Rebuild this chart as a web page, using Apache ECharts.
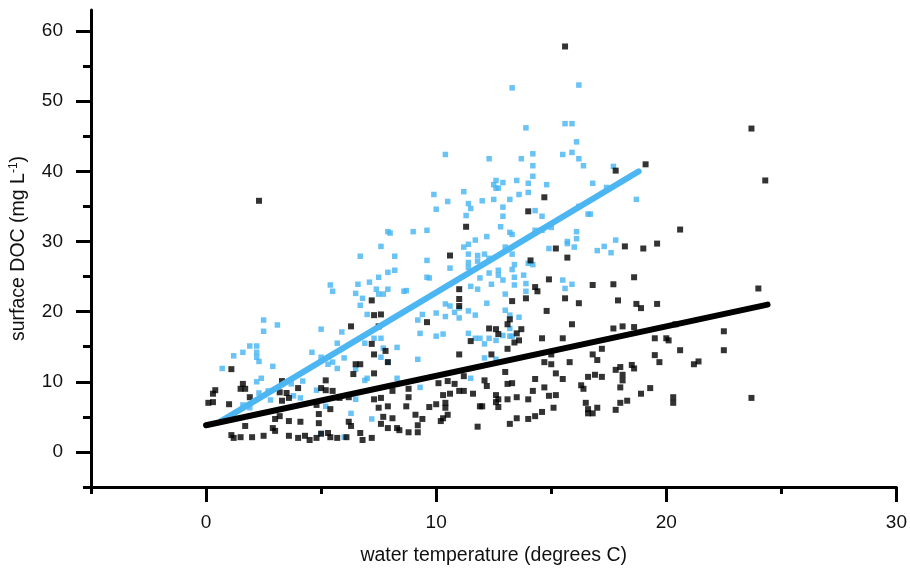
<!DOCTYPE html>
<html>
<head>
<meta charset="utf-8">
<script src="https://cdn.jsdelivr.net/npm/echarts@6/dist/echarts.min.js"></script>
<style>
  html, body { margin: 0; padding: 0; background: #fff; }
  #chart { width: 910px; height: 572px; }
</style>
</head>
<body>
<div id="chart"></div>
<script>
// surface DOC vs water temperature
var bluePoints = [
  [7.9,31.4],[7.6,29.3],[6.7,27.9],[7.5,24.9],[7.9,25.6],[5.4,23.8],[6.6,23.9],[7.1,24.2],[7.4,23.2],[7.9,23.2],
  [2.5,18.8],[3.1,18.1],[2.5,17.2],[5.0,17.5],[5.9,17.1],[1.2,13.7],[1.6,14.2],[1.9,15.1],[2.2,15.1],[2.2,14.2],
  [2.2,13.5],[2.3,12.9],[0.7,11.9],[2.9,12.2],[4.6,14.2],[5.0,13.5],[5.7,15.5],[6.0,13.4],[5.5,12.8],[5.3,12.5],
  [5.7,11.9],[6.5,11.8],[6.9,15.5],[7.3,16.2],[7.6,16.2],[7.7,14.8],[7.6,13.5],[7.9,12.8],[2.4,10.5],[2.2,10.0],
  [3.7,9.7],[4.2,10.1],[2.7,8.7],[2.3,8.4],[2.8,7.4],[3.8,8.0],[4.1,7.7],[4.8,8.8],[5.2,6.5],[6.5,7.5],
  [6.9,10.2],[7.0,10.5],[1.6,6.7],[1.9,6.3],[6.3,5.5],[7.2,4.7],[5.0,2.6],[6.0,2.1],[5.5,22.9],[6.5,22.6],
  [6.8,21.9],[6.7,20.9],[7.5,22.5],[7.7,22.5],[7.0,19.6],
  [13.3,51.9],[16.2,52.3],[15.6,46.8],[15.9,46.8],[13.9,46.2],[16.1,44.2],[15.5,42.4],[15.9,42.7],[16.2,41.8],[16.4,40.8],
  [10.4,42.4],[12.3,41.8],[13.7,41.8],[14.2,42.5],[14.2,40.8],[14.2,39.3],[13.5,38.7],[14.0,38.3],[14.8,38.1],[12.6,38.7],
  [12.5,38.1],[12.9,38.4],[12.6,37.6],[12.7,37.6],[9.9,36.7],[11.2,37.1],[13.6,36.7],[14.0,37.0],[12.5,36.0],[13.2,36.0],
  [12.0,35.8],[10.5,35.7],[11.4,35.4],[11.5,34.7],[10.0,34.6],[12.9,34.9],[14.3,34.4],[14.6,33.6],[11.3,33.7],[12.9,33.6],
  [16.6,33.9],[12.8,32.1],[13.2,31.3],[13.3,31.0],[9.0,31.4],[9.6,31.6],[8.0,31.2],[11.7,30.2],[12.2,30.7],[14.3,31.6],
  [14.6,31.6],[15.0,32.0],[16.1,31.4],[16.1,30.4],[16.2,35.0],[15.7,30.0],
  [8.2,27.9],[8.2,25.9],[9.6,27.3],[9.6,24.9],[9.7,24.8],[10.6,26.2],[11.2,29.2],[11.4,29.6],[11.4,28.2],[11.4,27.0],
  [11.4,26.3],[11.8,28.0],[12.1,28.2],[12.3,27.6],[11.8,27.2],[13.0,29.2],[13.3,28.2],[14.9,29.0],[15.7,29.7],[16.0,29.2],
  [8.6,22.9],[8.7,23.0],[10.4,21.1],[10.6,20.8],[11.0,20.5],[10.8,19.9],[11.4,20.1],[11.7,19.5],[11.0,19.1],[10.4,19.3],
  [10.0,19.8],[9.4,19.6],[9.2,18.8],[9.3,16.9],[10.0,16.5],[10.3,16.8],[11.4,16.9],[11.7,16.2],[11.9,16.2],[12.3,16.2],
  [12.1,15.4],[12.6,15.9],[12.9,16.6],[13.2,16.5],[12.1,13.4],[9.2,13.2],[11.5,23.6],[11.8,23.2],[11.9,24.8],[12.4,23.9],
  [12.2,21.2],[12.3,25.5],[12.7,25.9],[12.7,25.2],[12.9,24.5],[13.0,22.5],[13.3,26.0],[13.4,26.7],[13.4,24.9],[13.4,23.8],
  [13.8,25.2],[13.9,24.0],[13.9,22.9],[14.0,26.9],[14.2,26.7],[15.5,24.5],[15.9,23.9],[15.6,23.3],[13.0,20.2],[13.2,19.5],
  [13.6,19.2],[13.2,17.6],[13.3,16.5],[8.3,10.5],[9.3,9.2],[11.5,10.5],[12.6,13.2],[8.3,14.9],
  [17.7,40.7],[16.8,38.3],[17.4,37.7],[18.7,36.0],[16.7,33.9],[17.0,28.7],[17.3,29.3],[17.6,28.4],[17.8,30.2]
];
var blackPoints = [
  [2.3,35.8],
  [7.2,21.6],[6.3,17.9],[7.3,19.5],[7.6,19.6],[7.5,17.9],[7.2,15.4],[7.8,14.4],[7.3,13.9],[7.9,12.8],[1.1,11.8],
  [6.5,12.5],[6.7,12.5],[6.4,11.1],[7.3,11.2],[3.3,10.1],[1.6,9.7],[1.5,9.0],[1.7,9.0],[0.4,8.8],[0.3,8.3],
  [0.1,7.0],[0.3,7.1],[1.0,6.8],[1.9,7.8],[3.2,8.5],[3.5,8.4],[3.6,7.7],[4.0,9.1],[3.3,7.3],[5.2,10.2],
  [5.0,9.1],[5.2,8.8],[5.5,8.7],[5.8,7.7],[6.2,7.8],[7.3,7.5],[7.6,7.7],[7.5,6.3],[7.9,6.5],[5.4,6.1],
  [4.8,6.7],[4.9,5.4],[3.2,5.1],[3.0,4.7],[1.7,3.7],[3.6,4.4],[4.1,4.3],[4.9,4.1],[6.2,4.3],[6.3,3.7],
  [7.9,3.4],[7.7,5.0],[1.1,2.4],[1.2,2.0],[1.5,2.1],[2.0,2.1],[2.5,2.3],[2.9,3.4],[3.0,3.0],[3.6,2.3],
  [4.0,2.0],[4.3,2.3],[4.5,1.7],[4.8,2.0],[5.0,2.6],[5.3,2.7],[5.4,2.1],[5.7,2.0],[6.1,2.1],[6.7,2.7],
  [6.8,1.7],[7.2,2.0],[7.6,4.0],
  [15.6,57.8],[14.7,36.3],[14.0,34.3],[11.3,32.1],
  [10.6,28.0],[15.2,29.0],[15.7,27.7],[14.1,27.3],[14.9,24.6],[14.3,23.5],[14.4,22.9],[16.2,21.2],[15.6,21.9],[14.8,20.1],
  [15.9,18.2],[11.0,23.2],[11.0,21.8],[11.0,20.8],[9.6,18.5],[12.3,17.6],[12.6,17.5],[12.7,16.8],[13.3,21.5],[13.9,21.9],
  [13.2,18.9],[13.1,18.2],[13.7,17.5],[13.5,16.9],[13.6,15.9],[13.4,15.6],[13.1,14.7],[11.5,15.8],[14.6,16.2],[15.5,16.2],
  [12.4,13.9],[11.0,13.9],[15.0,13.9],[14.7,12.8],[15.0,12.5],[15.8,12.8],[13.0,11.4],[15.2,11.2],[15.5,10.4],[16.6,10.7],
  [14.3,10.4],[12.1,10.2],[12.2,9.4],[13.1,9.7],[13.3,9.8],[14.7,9.2],[16.3,9.5],[16.4,9.0],[11.2,10.8],[10.8,9.7],
  [10.5,10.1],[10.1,9.8],[8.8,9.0],[8.1,8.7],[8.8,7.8],[10.3,8.1],[10.6,8.3],[11.0,8.7],[11.2,8.7],[11.6,8.3],
  [12.6,8.1],[12.7,7.5],[13.1,7.5],[13.5,7.8],[14.0,7.5],[14.2,8.7],[14.9,8.0],[15.2,8.1],[16.5,7.0],[16.6,6.1],
  [15.1,6.3],[14.6,5.7],[14.3,5.1],[14.0,4.7],[13.5,4.8],[13.2,4.0],[12.6,7.1],[12.7,6.4],[12.0,6.5],[11.9,6.5],
  [10.4,7.0],[10.4,6.3],[10.0,6.8],[9.7,6.4],[10.5,5.3],[10.3,4.8],[10.2,4.4],[9.4,4.7],[9.1,5.3],[9.2,3.8],
  [9.2,2.8],[8.8,2.8],[8.7,6.5],[8.3,3.4],[8.4,3.1],[8.1,4.8],[11.8,3.6],[16.6,5.5],
  [19.1,41.0],[17.8,40.1],[23.7,46.1],[24.3,38.7],[20.6,31.7],
  [18.2,29.3],[19.0,29.0],[19.6,29.7],[16.8,23.8],[17.7,23.9],[18.6,24.9],[17.9,21.6],[18.7,21.1],[18.9,20.5],[19.6,21.1],
  [24.0,23.3],[17.7,17.6],[18.1,17.9],[18.6,17.8],[20.4,18.2],[19.5,16.2],[20.0,16.2],[20.1,15.9],[22.5,17.2],[22.5,14.5],
  [20.6,14.5],[17.2,14.7],[16.8,13.9],[17.0,13.1],[19.5,13.8],[19.7,12.8],[21.2,12.5],[21.4,12.9],[17.8,11.7],[18.0,12.1],
  [18.5,12.4],[18.6,11.9],[16.9,11.0],[17.2,10.7],[18.1,11.0],[18.1,10.2],[18.0,9.2],[19.3,9.1],[18.9,8.3],[20.3,7.8],
  [20.3,7.0],[23.7,7.7],[18.3,7.3],[18.0,7.0],[17.8,6.0],[17.0,6.3],[16.8,5.5]
];
// fitted lines, end points
var blueFit = [[0.65, 4.4], [18.8, 40.0]];
var blackFit = [[0.0, 3.8], [24.4, 21.0]];

var xMajorTicks = [0, 10, 20, 30];
var xMinorTicks = [-5, 5, 15, 25];
var yMajorTicks = [0, 10, 20, 30, 40, 50, 60];
var yMinorTicks = [-5, 5, 15, 25, 35, 45, 55];

var chart = echarts.init(document.getElementById('chart'));
var font = '"Liberation Sans", Arial, sans-serif';
var textColor = '#111';
var lineBlack = { color: '#000', width: 3 };

chart.setOption({
  animation: false,
  backgroundColor: '#fff',
  grid: { left: 89, top: 10, width: 808, height: 477 },
  xAxis: [{
    type: 'value', min: -5, max: 30,
    name: 'water temperature (degrees C)',
    nameLocation: 'middle', nameGap: 59,
    nameTextStyle: { fontFamily: font, fontSize: 19.5, color: textColor },
    axisLine: { show: true, onZero: false, lineStyle: lineBlack },
    axisTick: { show: true, length: 15, lineStyle: lineBlack, customValues: xMajorTicks },
    axisLabel: { customValues: xMajorTicks, margin: 26, fontFamily: font, fontSize: 19, color: textColor },
    splitLine: { show: false }
  }, {
    type: 'value', min: -5, max: 30, position: 'bottom',
    axisLine: { show: false, onZero: false },
    axisTick: { show: true, length: 7, lineStyle: lineBlack, customValues: xMinorTicks },
    axisLabel: { show: false },
    splitLine: { show: false }
  }],
  yAxis: [{
    type: 'value', min: -5, max: 63,
    name: 'surface DOC (mg L{sup|-1})',
    nameLocation: 'middle', nameGap: 62,
    nameTextStyle: {
      fontFamily: font, fontSize: 19.5, color: textColor,
      rich: { sup: { fontFamily: font, fontSize: 12, color: textColor, verticalAlign: 'top', padding: [0, 0, 9, 0] } }
    },
    axisLine: { show: true, onZero: false, lineStyle: lineBlack },
    axisTick: { show: true, length: 15, lineStyle: lineBlack, customValues: yMajorTicks },
    axisLabel: { customValues: yMajorTicks, margin: 28, fontFamily: font, fontSize: 19, color: textColor },
    splitLine: { show: false }
  }, {
    type: 'value', min: -5, max: 63, position: 'left',
    axisLine: { show: false, onZero: false },
    axisTick: { show: true, length: 8, lineStyle: lineBlack, customValues: yMinorTicks },
    axisLabel: { show: false },
    splitLine: { show: false }
  }],
  series: [{
    type: 'scatter', data: bluePoints, symbol: 'rect', symbolSize: 5.5,
    itemStyle: { color: '#45b4f3' }, z: 2
  }, {
    type: 'scatter', data: blackPoints, symbol: 'rect', symbolSize: 6,
    itemStyle: { color: '#000' }, z: 3
  }, {
    type: 'line', data: blueFit, showSymbol: false, symbol: 'none',
    lineStyle: { color: '#4cb6f2', width: 6, cap: 'round' }, z: 4
  }, {
    type: 'line', data: blackFit, showSymbol: false, symbol: 'none',
    lineStyle: { color: '#000', width: 6, cap: 'round' }, z: 5
  }]
});
</script>
</body>
</html>
